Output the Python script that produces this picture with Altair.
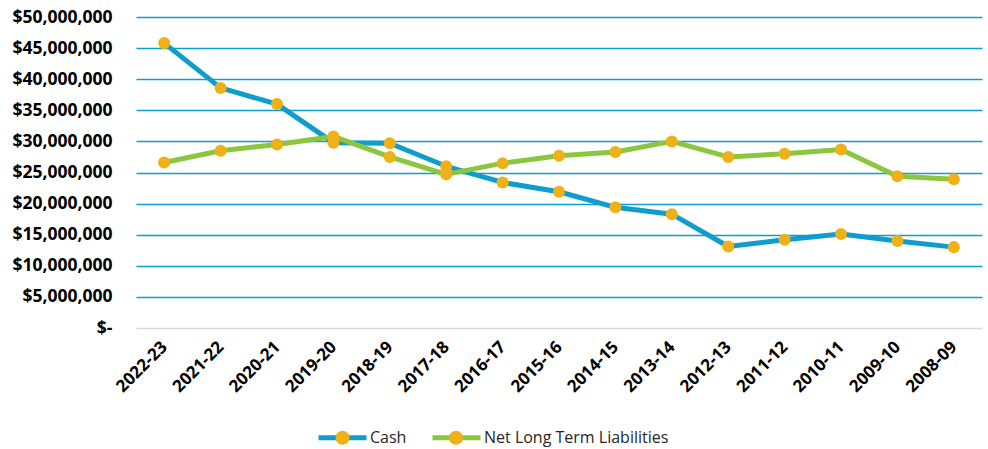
import altair as alt
import pandas as pd

periods = ["2022-23", "2021-22", "2020-21", "2019-20", "2018-19", "2017-18", "2016-17",
           "2015-16", "2014-15", "2013-14", "2012-13", "2011-12", "2010-11", "2009-10", "2008-09"]
cash = [45.8, 38.6, 36.0, 29.8, 29.7, 26.0, 23.4, 21.9, 19.4, 18.3, 13.1, 14.2, 15.1, 14.0, 13.0]
nltl = [26.6, 28.5, 29.5, 30.8, 27.5, 24.7, 26.5, 27.7, 28.3, 30.0, 27.5, 28.0, 28.7, 24.4, 23.9]
series_names = ["Cash", "Net Long Term Liabilities"]
line_colors = ["#0e9dcd", "#8cc63f"]
marker_color = "#efb117"
grid_color = "#0b9fd0"

rows = []
for name, vals in zip(series_names, [cash, nltl]):
    for p, v in zip(periods, vals):
        rows.append({"Period": p, "Series": name, "Marker": name, "Value": v * 1_000_000})
df = pd.DataFrame(rows)

FONT = "Open Sans"

x = alt.X("Period:N", sort=periods, title=None,
          scale=alt.Scale(paddingInner=0, paddingOuter=0.5, align=0.5),
          axis=alt.Axis(labelAngle=-45, labelAlign="right", labelBaseline="middle",
                        labelFont=FONT, labelFontSize=17, labelFontWeight="bold",
                        labelColor="#000000", labelPadding=16, ticks=False,
                        domain=False, grid=False))
y = alt.Y("Value:Q", title=None,
          scale=alt.Scale(domain=[0, 50_000_000], nice=False),
          axis=alt.Axis(values=list(range(0, 50_000_001, 5_000_000)),
                        labelExpr="datum.value == 0 ? '$-' : '$' + format(datum.value, ',')",
                        labelFont=FONT, labelFontSize=17.5, labelFontWeight="bold",
                        labelColor="#000000", labelPadding=24, ticks=False, domain=False,
                        gridColor={"condition": {"test": "datum.value === 0", "value": "#d9d9d9"},
                                   "value": grid_color},
                        gridWidth=1.6))

LX, LY = 180, 394

lines = alt.Chart(df).mark_line(strokeWidth=5, strokeCap="round", strokeJoin="round").encode(
    x=x, y=y,
    color=alt.Color("Series:N", scale=alt.Scale(domain=series_names, range=line_colors),
                    legend=alt.Legend(title=None, orient="none", direction="horizontal",
                                      legendX=LX, legendY=LY,
                                      symbolType="stroke", symbolSize=2304,
                                      symbolStrokeWidth=5, labelFont=FONT, labelFontSize=16,
                                      labelColor="#262626", labelOffset=1, labelLimit=0,
                                      columnPadding=15))
)

points = alt.Chart(df).mark_point(filled=True, size=145, opacity=1).encode(
    x=x, y=y,
    fill=alt.Fill("Marker:N", scale=alt.Scale(range=[marker_color, marker_color]),
                  legend=alt.Legend(title=None, orient="none", direction="horizontal",
                                    legendX=LX, legendY=LY,
                                    symbolType="M-0.29,0 A0.29,0.29 0 1,0 0.29,0 A0.29,0.29 0 1,0 -0.29,0 Z",
                                    symbolSize=2304, symbolStrokeWidth=5,
                                    symbolStrokeColor="transparent", symbolOpacity=1,
                                    labelExpr="''", labelFontSize=16,
                                    labelOffset=1, columnPadding=15 + 36.5 + 8))
)

chart = alt.layer(lines, points).properties(
    width=846, height=311,
    autosize=alt.AutoSizeParams(type="none"),
    padding={"left": 136, "top": 17, "right": 6, "bottom": 121},
    background="#ffffff"
).configure_view(stroke=None)

chart.save("out.html", embed_options={"renderer": "svg", "actions": False})
